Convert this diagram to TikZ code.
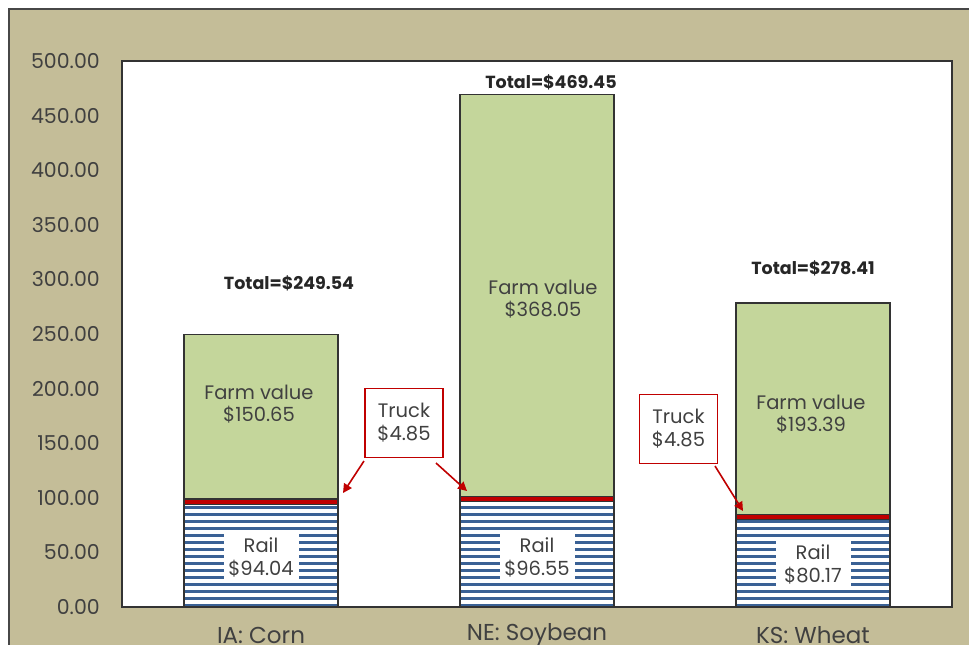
\documentclass[tikz,border=0pt]{standalone}
\usepackage{fontspec}
\setmainfont{Poppins}
\usetikzlibrary{arrows.meta}
\definecolor{beige}{HTML}{C4BD98}
\definecolor{farm}{HTML}{C4D69B}
\definecolor{railblue}{HTML}{3A6195}
\definecolor{truckred}{HTML}{C00000}
\definecolor{edgegray}{HTML}{333333}
\definecolor{txt}{HTML}{404040}
\tikzset{
  seg/.style={draw=edgegray, line width=1.3pt},
  ticklbl/.style={anchor=east, text=txt, font=\fontsize{20.5}{22}\selectfont, inner sep=0pt},
  catlbl/.style={text=txt, font=\fontsize{23}{25}\selectfont, inner sep=0pt},
  vallbl/.style={text=txt, font=\fontsize{19.5}{22}\selectfont, align=center, inner sep=0pt},
  raillbl/.style={fill=white, text=txt, font=\fontsize{19.5}{23}\selectfont, align=center, minimum width=75pt, minimum height=50pt, inner sep=0pt},
  totlbl/.style={text=black!85, font=\bfseries\fontsize{17.5}{19}\selectfont, inner sep=0pt},
  truckbox/.style={draw=truckred, line width=1.3pt, fill=white, text=txt, font=\fontsize{19.5}{23}\selectfont, align=center, minimum width=78pt, minimum height=69pt, inner sep=0pt},
  callout/.style={draw=truckred, line width=1.6pt, -{Triangle[length=9pt,width=9pt]}}
}
\begin{document}
\begin{tikzpicture}[x=1pt,y=-1pt]
\clip (0,0) rectangle (969,645);
\fill[white] (0,0) rectangle (969,645);
% outer frame
\fill[beige] (9,9) rectangle (990,670);
\draw[edgegray!90, line width=2pt] (9,670) -- (9,9) -- (990,9);
% plot area
\fill[white] (122,61) rectangle (952,607);
% tick labels
\foreach \k/\lab in {0/0.00,1/50.00,2/100.00,3/150.00,4/200.00,5/250.00,6/300.00,7/350.00,8/400.00,9/450.00,10/500.00}{
  \node[ticklbl] (t\k) at (100,{607-54.6*\k}) {\lab};
}
% bars: x0, x1, rail top, truck top, total top, name
\foreach \xa/\xb/\ra/\tr/\tot/\nm in {184/338/504.3/499.0/334.5/ia, 460/614/501.6/496.3/94.4/ne, 736/890/519.5/514.2/303.0/ks}{
  \begin{scope}
    \clip (\xa,\ra) rectangle (\xb,607);
    \fill[white] (\xa,\ra) rectangle (\xb,607);
    \foreach \j in {0,...,16}{
      \fill[railblue] (\xa,{607-\j*7}) rectangle (\xb,{603.5-\j*7});
    }
  \end{scope}
  \draw[seg] (\xa,\ra) rectangle (\xb,607);
  \draw[seg, fill=truckred] (\xa,\tr) rectangle (\xb,\ra);
  \draw[seg, fill=farm] (\xa,\tot) rectangle (\xb,\tr);
}
% plot frame
\draw[edgegray, line width=1.5pt] (122,607) -- (122,61) -- (952,61) -- (952,607) -- cycle;
% value labels
\node[vallbl] (fia) at (259,404) {Farm value\\\$150.65};
\node[vallbl] (fne) at (543,299) {Farm value\\\$368.05};
\node[vallbl] (fks) at (811,414) {Farm value\\\$193.39};
\node[raillbl] (ria) at (261,557) {Rail\\\$94.04};
\node[raillbl] (rne) at (537,557) {Rail\\\$96.55};
\node[raillbl] (rks) at (813,564) {Rail\\\$80.17};
% totals
\node[totlbl] (tia) at (289,283) {Total=\$249.54};
\node[totlbl] (tne) at (551,82) {Total=\$469.45};
\node[totlbl] (tks) at (813,268) {Total=\$278.41};
% categories
\node[catlbl] (cia) at (261,635) {IA: Corn};
\node[catlbl] (cne) at (537,635) {NE: Soybean};
\node[catlbl] (cks) at (813,635) {KS: Wheat};
% truck callouts
\node[truckbox] (tb1) at (404,423) {Truck\\\$4.85};
\node[truckbox] (tb2) at (678.5,429) {Truck\\\$4.85};
\coordinate (s1) at (364,461);
\coordinate (e1) at (343,493);
\coordinate (s2) at (436,463);
\coordinate (e2) at (467,491);
\coordinate (s3) at (715,466);
\coordinate (e3) at (743,511);
\draw[callout] (s1) -- (e1);
\draw[callout] (s2) -- (e2);
\draw[callout] (s3) -- (e3);
\end{tikzpicture}
\end{document}
